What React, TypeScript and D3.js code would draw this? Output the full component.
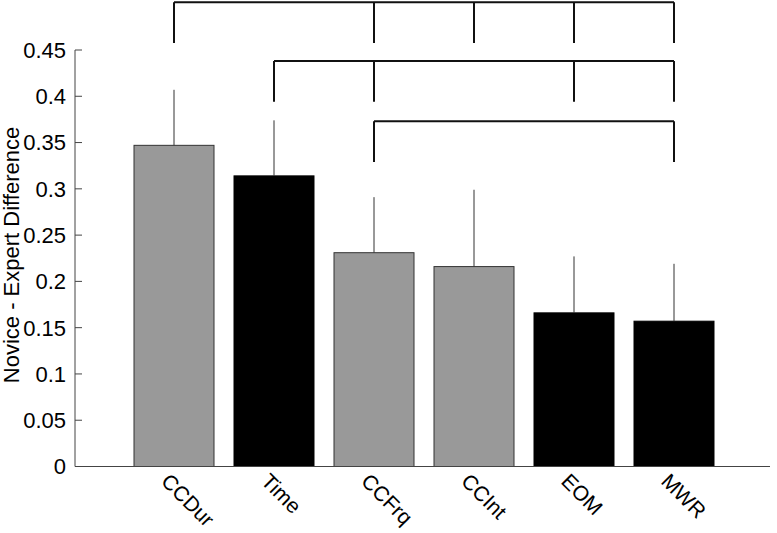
import React, { useRef, useEffect } from 'react'
import * as d3 from 'd3'

// bar data
const categories = ['CCDur', 'Time', 'CCFrq', 'CCInt', 'EOM', 'MWR']
const values = [0.347, 0.314, 0.231, 0.216, 0.166, 0.157]
const errors = [0.060, 0.060, 0.060, 0.083, 0.061, 0.062]
const groups = ['gray', 'black', 'gray', 'gray', 'black', 'black']
const yTicks = [0, 0.05, 0.1, 0.15, 0.2, 0.25, 0.3, 0.35, 0.4, 0.45]

// significance brackets
const bracketFrom = ['CCDur', 'Time', 'CCFrq']
const bracketTo = [['CCFrq', 'CCInt', 'EOM', 'MWR'], ['CCFrq', 'EOM', 'MWR'], ['MWR']]
const bracketTop = [0.5015, 0.438, 0.373]
const bracketBottom = [0.4575, 0.394, 0.329]

export default function App() {
    const svgRef = useRef<SVGSVGElement>(null)

    useEffect(() => {
        const w = 777
        const h = 533
        const svg = d3.select(svgRef.current)
            .attr('width', w)
            .attr('height', h)
            .style('background', '#fff')
            .style('font-family', '"Liberation Sans", Arial, sans-serif')
        svg.selectAll('*').remove()

        const axisLeft = 75
        const axisRight = 770

        const xScale = d3.scaleBand<string>()
            .domain(categories)
            .range([124, 724])
            .paddingInner(0.2)
            .paddingOuter(0.1)

        const yScale = d3.scaleLinear()
            .domain([0, 0.45])
            .range([466.5, 50])

        const cx = (c: string) => (xScale(c) ?? 0) + xScale.bandwidth() / 2

        // bars
        svg.append('g')
            .selectAll('rect')
            .data(categories)
            .join('rect')
                .attr('x', d => xScale(d) ?? 0)
                .attr('y', (d, i) => yScale(values[i]))
                .attr('width', xScale.bandwidth())
                .attr('height', (d, i) => yScale(0) - yScale(values[i]))
                .attr('fill', (d, i) => groups[i] === 'gray' ? '#999999' : '#000')
                .attr('stroke', (d, i) => groups[i] === 'gray' ? '#333' : '#000')
                .attr('stroke-width', 1)

        // error bars (upper only)
        svg.append('g')
            .selectAll('line')
            .data(categories)
            .join('line')
                .attr('x1', d => cx(d))
                .attr('x2', d => cx(d))
                .attr('y1', (d, i) => yScale(values[i]))
                .attr('y2', (d, i) => yScale(values[i] + errors[i]))
                .attr('stroke', '#333')
                .attr('stroke-width', 1)

        // axes
        const axis = svg.append('g')
        axis.append('line')
            .attr('x1', axisLeft).attr('x2', axisLeft)
            .attr('y1', yScale(0.45)).attr('y2', yScale(0))
            .attr('stroke', '#444')
        axis.append('line')
            .attr('x1', axisLeft).attr('x2', axisRight)
            .attr('y1', yScale(0)).attr('y2', yScale(0))
            .attr('stroke', '#444')

        axis.selectAll('.tick')
            .data(yTicks)
            .join('line')
                .attr('class', 'tick')
                .attr('x1', axisLeft).attr('x2', axisLeft + 7)
                .attr('y1', d => yScale(d)).attr('y2', d => yScale(d))
                .attr('stroke', '#444')

        axis.selectAll('.ylab')
            .data(yTicks)
            .join('text')
                .attr('class', 'ylab')
                .attr('x', 66)
                .attr('y', d => yScale(d))
                .attr('dy', '0.36em')
                .attr('text-anchor', 'end')
                .attr('font-size', 22)
                .attr('fill', '#000')
                .text(d => d3.format('~g')(d))

        axis.selectAll('.xlab')
            .data(categories)
            .join('text')
                .attr('class', 'xlab')
                .attr('transform', d => `translate(${cx(d) - 14}, ${yScale(0) + 16}) rotate(45)`)
                .attr('font-size', 21)
                .attr('fill', '#000')
                .text(d => d)

        svg.append('text')
            .attr('transform', `translate(19, 255) rotate(-90)`)
            .attr('text-anchor', 'middle')
            .attr('font-size', 22)
            .attr('fill', '#000')
            .text('Novice - Expert Difference')

        // brackets
        const br = svg.append('g')
            .attr('stroke', '#111')
            .attr('stroke-width', 2)
            .attr('fill', 'none')
        bracketFrom.forEach((from, i) => {
            const ends = [from, ...bracketTo[i]]
            const xs = ends.map(cx)
            br.append('line')
                .attr('x1', d3.min(xs)!).attr('x2', d3.max(xs)!)
                .attr('y1', yScale(bracketTop[i])).attr('y2', yScale(bracketTop[i]))
            ends.forEach(e => {
                br.append('line')
                    .attr('x1', cx(e)).attr('x2', cx(e))
                    .attr('y1', yScale(bracketTop[i])).attr('y2', yScale(bracketBottom[i]))
            })
        })
    }, [])

    return (
        <div style={{ position: 'absolute', left: 0, top: 0 }}>
            <svg ref={svgRef}></svg>
        </div>
    )
}
